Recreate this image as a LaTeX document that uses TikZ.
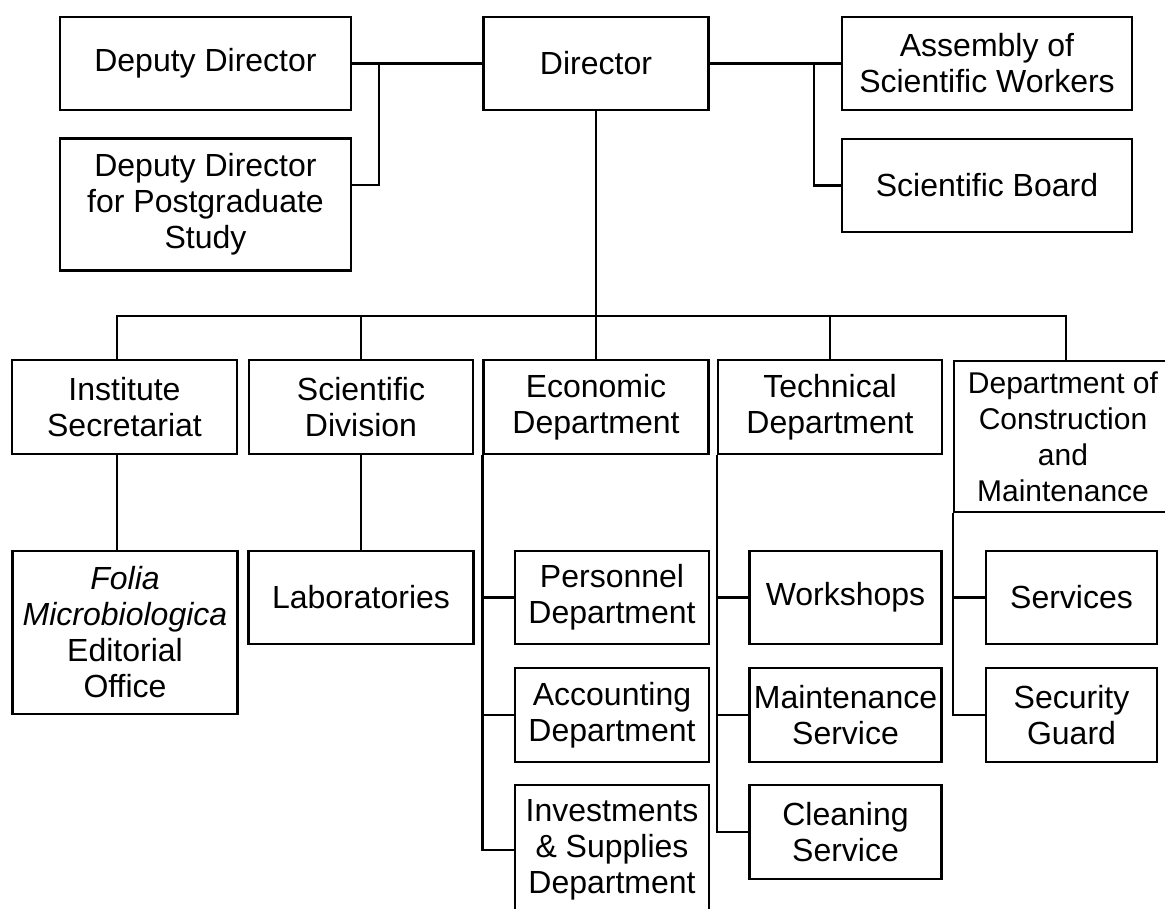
\documentclass[tikz,border=0pt]{standalone}
\usepackage{fontspec}
\setmainfont{Liberation Sans}
\begin{document}
\begin{tikzpicture}[x=1pt,y=-1pt,
  box/.style={draw, line width=2.2pt, rectangle, inner sep=0pt, align=center,
    font=\fontsize{32}{36}\selectfont},
  smallbox/.style={box, font=\fontsize{30}{36}\selectfont},
  conn/.style={line width=2.2pt}]
\useasboundingbox (0,0) rectangle (1165,908);
\fill[white] (0,0) rectangle (1165,908);
\clip (0,0) rectangle (1165,908);
% top row
\node[box, minimum width=291, minimum height=93] (dd) at (205.5,63.5) {Deputy Director};
\node[box, minimum width=291, minimum height=132] (ddpg) at (205.5,204.5) {Deputy Director\\for Postgraduate\\Study};
\node[box, minimum width=225, minimum height=93] (dir) at (596,63.5) {Director};
\node[box, minimum width=290, minimum height=93] (asm) at (987,63.5) {Assembly of\\Scientific Workers};
\node[box, minimum width=290, minimum height=93] (sb) at (987,185.5) {Scientific Board};
% second row
\node[box, minimum width=225, minimum height=94] (inst) at (124.5,407) {Institute\\Secretariat};
\node[box, minimum width=224, minimum height=94] (sci) at (361,407) {Scientific\\Division};
\node[box, minimum width=225, minimum height=94] (econ) at (596,407) {Economic\\Department};
\node[box, minimum width=224, minimum height=94] (tech) at (830,407) {Technical\\Department};
\node[smallbox, minimum width=224, minimum height=151] (dcm) at (1066,436.5) {};
\node[smallbox, draw=none] (dcmtext) at (1063,436.5) {Department of\\Construction\\and\\Maintenance};
% lower boxes
\node[box, minimum width=225, minimum height=163] (folia) at (125,632.5) {\textit{Folia}\\\textit{Microbiologica}\\Editorial\\Office};
\node[box, minimum width=225, minimum height=93] (lab) at (361,597.5) {Laboratories};
\node[box, minimum width=194, minimum height=93] (pers) at (612,597.5) {Personnel\\Department};
\node[box, minimum width=194, minimum height=94] (acc) at (612,715) {Accounting\\Department};
\node[box, minimum width=194, minimum height=130] (inv) at (612,850) {Investments\\\& Supplies\\Department};
\node[box, minimum width=192, minimum height=93] (work) at (845.5,597.5) {Workshops};
\node[box, minimum width=192, minimum height=94] (maint) at (845.5,715) {Maintenance\\Service};
\node[box, minimum width=192, minimum height=94] (clean) at (845.5,832) {Cleaning\\Service};
\node[box, minimum width=171, minimum height=93] (serv) at (1071.5,597.5) {Services};
\node[box, minimum width=171, minimum height=94] (secg) at (1071.5,715) {Security\\Guard};
% connectors top
\coordinate (j1) at (379,63.5);
\coordinate (j1b) at (379,185);
\coordinate (j2) at (814,63.5);
\draw[conn] (dd.east) -- (dir.west);
\draw[conn] (j1) -- (j1b) -- (j1b -| ddpg.east);
\draw[conn] (dir.east) -- (asm.west);
\draw[conn] (j2) |- (sb.west);
% bus
\coordinate (bl) at (117,316);
\coordinate (br) at (1066,316);
\draw[conn] (dir.south) -- (econ.north);
\draw[conn] (bl |- inst.north) -- (bl) -- (br) -- (dcm.north);
\draw[conn] (sci.north) -- (sci.north |- bl);
\draw[conn] (tech.north) -- (tech.north |- bl);
\draw[conn] (bl |- inst.south) -- (bl |- folia.north);
\draw[conn] (sci.south) -- (lab.north);
% economic
\draw[conn] (econ.south west) |- (inv.west);
\draw[conn] (econ.south west |- pers.west) -- (pers.west);
\draw[conn] (econ.south west |- acc.west) -- (acc.west);
% technical
\draw[conn] (tech.south west) |- (clean.west);
\draw[conn] (tech.south west |- work.west) -- (work.west);
\draw[conn] (tech.south west |- maint.west) -- (maint.west);
% construction
\draw[conn] (dcm.south west) |- (secg.west);
\draw[conn] (dcm.south west |- serv.west) -- (serv.west);
\end{tikzpicture}
\end{document}
